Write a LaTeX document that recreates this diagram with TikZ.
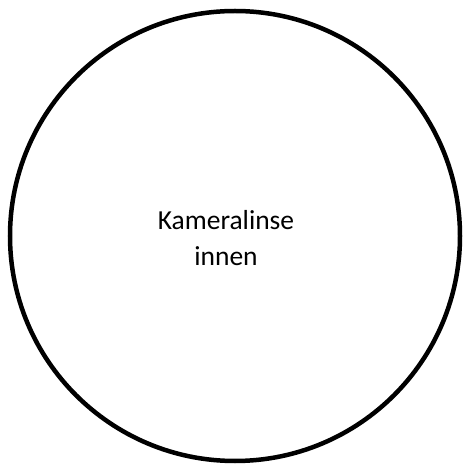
\documentclass[tikz,border=0pt]{standalone}
\usepackage{fontspec}
\setmainfont{Carlito}
\begin{document}
\begin{tikzpicture}[x=1pt,y=1pt]
            \useasboundingbox (0,0) rectangle (463,469);            % Frame of the picture
            \draw[line width=4.5pt] (235,233) circle (225);         % Outline of the lens
            \node[align=center,font=\fontsize{27.5}{36}\selectfont]
                (lens) at (226,231) {Kameralinse\\innen};            % Label inside
        \end{tikzpicture}
\end{document}
